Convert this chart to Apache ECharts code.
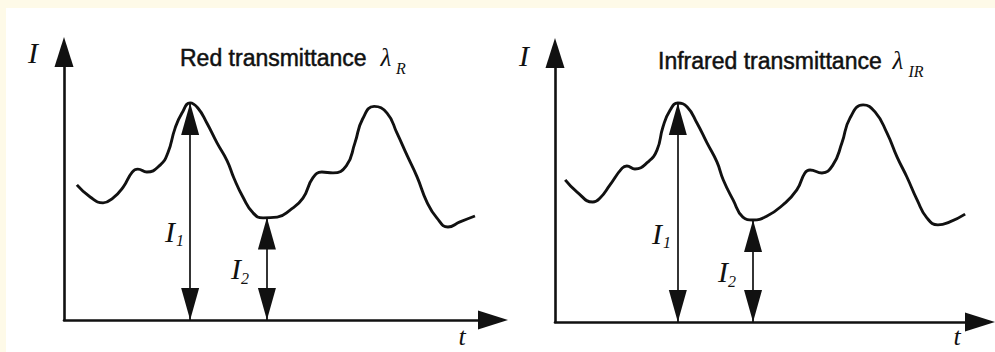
<!DOCTYPE html>
<html><head><meta charset="utf-8">
<script src="https://cdn.jsdelivr.net/npm/echarts@6/dist/echarts.min.js"></script>
<style>
html,body{margin:0;padding:0;background:#fefae8;}
#bg{position:absolute;left:6px;top:8px;width:989px;height:344px;background:#ffffff;}
#c{position:absolute;left:0;top:0;width:995px;height:352px;}
</style>
</head><body><div id="bg"></div><div id="c"></div><script>
// Red transmittance curve (t, I)
const redT = [3.0,6.1,9.1,11.4,13.8,15.9,17.2,19.3,22.4,24.2,25.9,27.5,29.4,31.2,33.3,35.7,38.0,39.6,41.7,44.1,46.4,49.7,52.7,55.7,58.0,60.1,62.7,65.8,67.8,69.6,72.3,75.3,77.6,80.0,82.3,84.6,86.9,89.5,92.3,95.8];
const redI = [5.04,4.59,4.37,4.55,4.96,5.52,5.63,5.52,5.78,6.23,7.16,7.72,8.10,7.91,7.35,6.60,5.95,5.30,4.59,3.99,3.81,3.84,4.10,4.55,5.30,5.52,5.49,5.75,6.60,7.50,7.97,7.72,6.98,6.13,5.34,4.40,3.81,3.47,3.66,3.88];
// Infrared transmittance curve (t, I)
const irT = [2.4,5.2,8.9,10.6,12.9,15.8,16.9,18.8,21.9,24.0,25.4,27.1,28.9,31.1,33.4,35.8,38.1,39.6,41.9,44.2,46.6,49.9,53.6,56.9,58.8,60.0,62.8,65.4,67.5,69.4,72.5,75.3,78.1,80.5,82.8,85.2,87.5,90.1,92.9,96.5];
const irI = [5.28,4.83,4.46,4.61,5.09,5.72,5.80,5.69,5.95,6.39,7.25,7.88,8.14,7.99,7.40,6.65,5.95,5.28,4.54,3.90,3.79,3.94,4.35,4.91,5.54,5.65,5.54,5.84,6.65,7.58,8.07,7.81,7.03,6.13,5.39,4.54,3.87,3.61,3.72,4.01];
// I1 / I2 measurement arrows: time position and top value
const redArrowT = [29.4, 47.3];
const redArrowTop = [8.10, 3.82];
const irArrowT = [28.9, 46.6];
const irArrowTop = [8.14, 3.79];
// Text
const titles = ['Red transmittance', 'Infrared transmittance'];
const lambdaSubs = ['R', 'IR'];
const arrowLabels = ['I', 'I'];
const arrowSubs = ['1', '2'];
const axisNameY = 'I';
const axisNameX = 't';

const serif = '"Liberation Serif","Times New Roman",serif';
const sans = '"Liberation Sans",Arial,Helvetica,sans-serif';
const ink = '#111111';

function zip(a, b) { return a.map((v, i) => [v, b[i]]); }

function axisPair(gi) {
  const ax = {
    gridIndex: gi, type: 'value', min: 0,
    axisLine: { show: true, onZero: false, symbol: ['none', 'triangle'], symbolSize: [19, 30],
      lineStyle: { color: ink, width: 2.6 } },
    axisTick: { show: false }, axisLabel: { show: false }, splitLine: { show: false }
  };
  return [Object.assign({}, ax, { max: 100 }), Object.assign({}, ax, { max: 10 })];
}
const a0 = axisPair(0), a1 = axisPair(1);

function arrowMarks(ts, tops) {
  return {
    silent: true,
    symbol: ['triangle', 'triangle'],
    symbolSize: [18, 32],
    symbolOffset: [[0, 16], [0, 16]],
    label: { show: false },
    emphasis: { disabled: true },
    lineStyle: { color: ink, width: 1.7, type: 'solid' },
    data: ts.map((t, i) => [{ coord: [t, 0] }, { coord: [t, tops[i]] }])
  };
}

function lineSeries(gi, t, I, at, atop) {
  return {
    type: 'line', xAxisIndex: gi, yAxisIndex: gi,
    data: zip(t, I), smooth: 0.5, showSymbol: false, silent: true,
    lineStyle: { color: ink, width: 2.9 },
    markLine: arrowMarks(at, atop)
  };
}

function txt(x, y, text, font, align, heavy) {
  const st = { text: text, font: font, fill: ink, align: align || 'center', verticalAlign: 'middle' };
  if (heavy) { st.stroke = ink; st.lineWidth = 0.5; }
  return { type: 'text', x: x, y: y, silent: true, style: st };
}

const graphics = [
  // left panel
  txt(33, 52, axisNameY, 'italic 30px ' + serif),
  txt(462, 336, axisNameX, 'italic 26px ' + serif),
  txt(180, 58, titles[0], '23px ' + sans, 'left', true),
  txt(386, 57, 'λ', 'italic 25px ' + serif),
  txt(401, 68, lambdaSubs[0], 'italic 16px ' + serif),
  txt(170, 231, arrowLabels[0], 'italic 30px ' + serif),
  txt(180, 240, arrowSubs[0], 'italic 16px ' + serif),
  txt(236, 268, arrowLabels[1], 'italic 30px ' + serif),
  txt(245, 278, arrowSubs[1], 'italic 16px ' + serif),
  // right panel
  txt(524, 55, axisNameY, 'italic 30px ' + serif),
  txt(957, 336, axisNameX, 'italic 26px ' + serif),
  txt(658, 61, titles[1], '23px ' + sans, 'left', true),
  txt(898, 60, 'λ', 'italic 25px ' + serif),
  txt(916, 71, lambdaSubs[1], 'italic 16px ' + serif),
  txt(657, 233, arrowLabels[0], 'italic 30px ' + serif),
  txt(667, 242, arrowSubs[0], 'italic 16px ' + serif),
  txt(723, 271, arrowLabels[1], 'italic 30px ' + serif),
  txt(732, 281, arrowSubs[1], 'italic 16px ' + serif)
];

const chart = echarts.init(document.getElementById('c'), null, { renderer: 'svg' });
chart.setOption({
  animation: false,
  backgroundColor: 'transparent',
  grid: [
    { left: 64, top: 52, width: 429, height: 268 },
    { left: 555, top: 53, width: 425, height: 269 }
  ],
  xAxis: [a0[0], a1[0]],
  yAxis: [a0[1], a1[1]],
  series: [
    lineSeries(0, redT, redI, redArrowT, redArrowTop),
    lineSeries(1, irT, irI, irArrowT, irArrowTop)
  ],
  graphic: graphics
});
</script></body></html>
